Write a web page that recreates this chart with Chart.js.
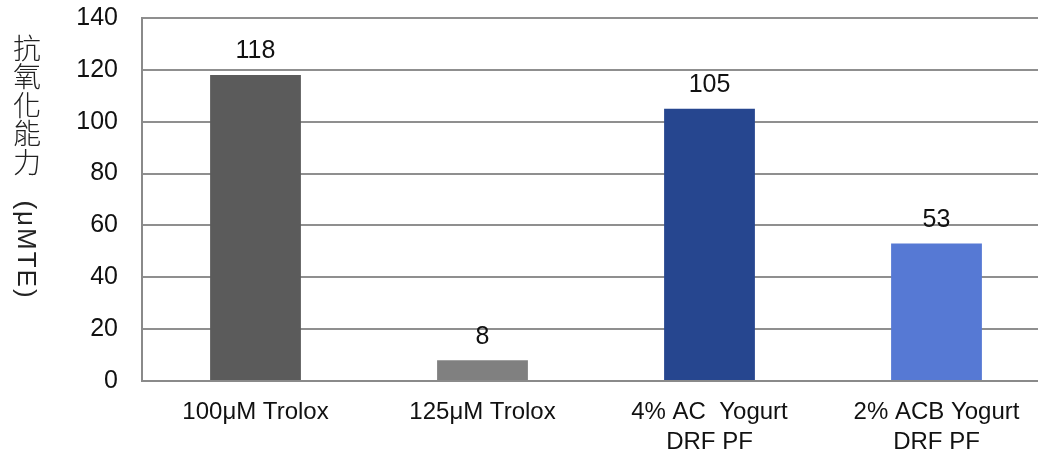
<!DOCTYPE html>
<html>
<head>
<meta charset="utf-8">
<script src="https://cdn.jsdelivr.net/npm/chart.js@4"></script>
<style>
  html, body { margin: 0; padding: 0; background: #fff; overflow: hidden; }
  #wrap { position: relative; width: 1050px; height: 456px; }
</style>
</head>
<body>
<div id="wrap"><canvas id="chart"></canvas></div>
<script>
// Categories, values and tick settings
const categories = [
  ['100μM Trolox'],
  ['125μM Trolox'],
  ['4% AC  Yogurt', 'DRF PF'],
  ['2% ACB Yogurt', 'DRF PF']
];
const values = [118, 8, 105, 53];
const barColors = ['#5b5b5b', '#808080', '#26468f', '#5679d4'];
const yTicks = { min: 0, max: 140, step: 20 };
const titleChars = ['抗', '氧', '化', '能', '力'];
const titleUnit = '(μMTE)';

const FONT = '"Liberation Sans", Arial, sans-serif';

// Value labels above each bar
const valueLabels = {
  id: 'valueLabels',
  afterDatasetsDraw(chart) {
    const ctx = chart.ctx;
    const meta = chart.getDatasetMeta(0);
    ctx.save();
    ctx.font = '25px ' + FONT;
    ctx.fillStyle = '#111';
    ctx.textAlign = 'center';
    ctx.textBaseline = 'bottom';
    meta.data.forEach((bar, i) => {
      ctx.fillText(String(values[i]), bar.x, bar.y - 11);
    });
    ctx.restore();
  }
};

// Vertical axis title: stacked upright characters, then the rotated unit
const axisTitle = {
  id: 'axisTitle',
  afterDraw(chart) {
    const ctx = chart.ctx;
    ctx.save();
    ctx.fillStyle = '#222';
    ctx.textAlign = 'center';
    ctx.textBaseline = 'middle';
    ctx.font = '300 28px "Noto Sans CJK TC", "Noto Sans CJK SC", sans-serif';
    titleChars.forEach((c, i) => {
      ctx.fillText(c, 27, 48 + i * 28.5);
    });
    ctx.translate(25, 250);
    ctx.rotate(Math.PI / 2);
    ctx.font = '26px ' + FONT;
    ctx.letterSpacing = '2px';
    ctx.fillText(titleUnit, 0, 0);
    ctx.restore();
  }
};

new Chart(document.getElementById('chart'), {
  type: 'bar',
  data: {
    labels: categories,
    datasets: [{
      data: values,
      backgroundColor: barColors,
      borderWidth: 0,
      barPercentage: 0.4,
      categoryPercentage: 1.0
    }]
  },
  options: {
    responsive: true,
    maintainAspectRatio: false,
    animation: false,
    layout: { padding: { top: 18, left: 0, right: 0, bottom: 0 } },
    plugins: {
      legend: { display: false },
      tooltip: { enabled: false },
      title: { display: false }
    },
    scales: {
      x: {
        grid: { display: false, drawTicks: false },
        border: { display: true, color: '#8a8a8a', width: 2 },
        ticks: {
          color: '#111',
          font: { family: FONT, size: 24, lineHeight: 1.25 },
          padding: 16,
          maxRotation: 0,
          autoSkip: false
        },
        afterFit(scale) {
          scale.height = 75;
          scale.paddingLeft = 0;
          scale.paddingRight = 0;
        }
      },
      y: {
        min: yTicks.min,
        max: yTicks.max,
        grid: { color: '#8f8f8f', lineWidth: 2, drawTicks: false },
        border: { display: true, color: '#8a8a8a', width: 2 },
        ticks: {
          stepSize: yTicks.step,
          color: '#111',
          font: { family: FONT, size: 25 },
          padding: 24
        },
        afterFit(scale) {
          scale.width = 142;
          scale.paddingTop = 0;
          scale.paddingBottom = 0;
        }
      }
    }
  },
  plugins: [valueLabels, axisTitle]
});
</script>
</body>
</html>
